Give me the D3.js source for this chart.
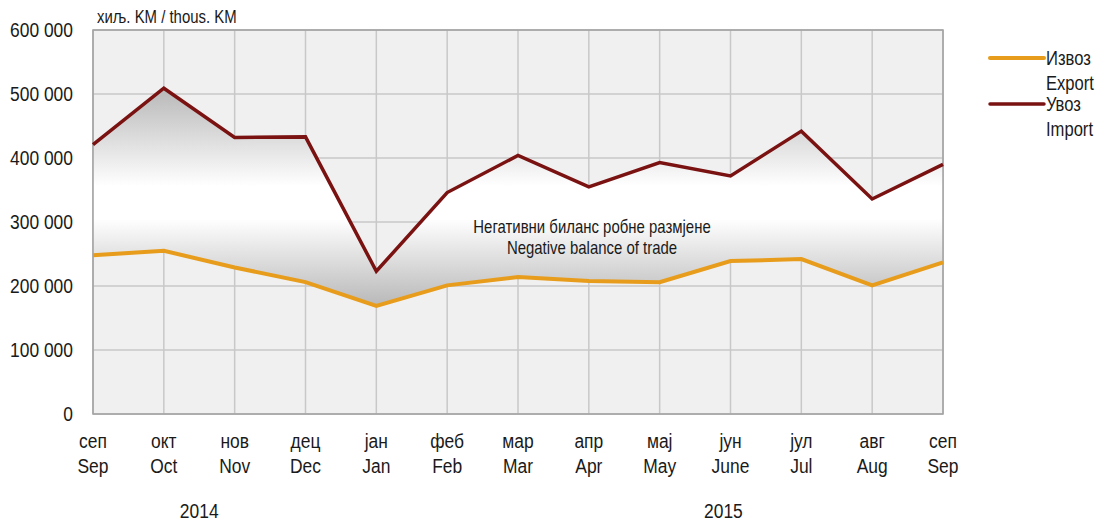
<!DOCTYPE html>
<html><head><meta charset="utf-8">
<script src="https://cdn.jsdelivr.net/npm/d3@7"></script>
<style>
body{margin:0;background:#fff;}
text{font-family:"Liberation Sans Narrow","Arial Narrow","Liberation Sans",sans-serif;fill:#1a1a1a;}
</style></head>
<body><svg id="c" width="1098" height="523"></svg>
<script>
const monthsCyr = ["сеп","окт","нов","дец","јан","феб","мар","апр","мај","јун","јул","авг","сеп"];
const monthsLat = ["Sep","Oct","Nov","Dec","Jan","Feb","Mar","Apr","May","June","Jul","Aug","Sep"];
const exportVals = [248000,255000,229000,206000,169000,201000,214000,208000,206000,239000,242000,201000,237000];
const importVals = [421000,509000,432000,433000,223000,346000,404000,355000,393000,372000,442000,336000,390000];
const yTicks = [0,100000,200000,300000,400000,500000,600000];
const years = [{label:"2014", at:1.5},{label:"2015", at:8.9}];

const svg = d3.select("#c");
const L=93, R=943, T=30, B=414;
const x = d3.scalePoint().domain(d3.range(monthsLat.length)).range([L,R]);
const xi = d3.scaleLinear().domain([0,monthsLat.length-1]).range([L,R]);
const y = d3.scaleLinear().domain([0,600000]).range([B,T]);
const K = 0.83;
function narrow(sel){
  sel.each(function(){
    const t=d3.select(this); const tx=+t.attr("x"), ty=+t.attr("y");
    t.attr("x",0).attr("y",0).attr("transform",`translate(${tx},${ty}) scale(${K},1)`);
  });
}

svg.append("rect").attr("x",L).attr("y",T).attr("width",R-L).attr("height",B-T).attr("fill","#f0f0f0");

// grid
svg.append("g").selectAll("line").data(yTicks).join("line")
  .attr("x1",L).attr("x2",R).attr("y1",d=>y(d)).attr("y2",d=>y(d))
  .attr("stroke","#c8c8c8").attr("stroke-width",1.5);
svg.append("g").selectAll("line").data(d3.range(monthsLat.length)).join("line")
  .attr("x1",d=>x(d)).attr("x2",d=>x(d)).attr("y1",T).attr("y2",B)
  .attr("stroke","#c8c8c8").attr("stroke-width",1.5);

// gradient area
const defs = svg.append("defs");
const g = defs.append("linearGradient").attr("id","gr").attr("gradientUnits","userSpaceOnUse")
  .attr("x1",0).attr("x2",0).attr("y1",y(d3.max(importVals))).attr("y2",y(d3.min(exportVals)));
[[0,"#b8b8b8"],[0.45,"#ffffff"],[0.6,"#ffffff"],[1,"#b8b8b8"]].forEach(s=>g.append("stop").attr("offset",s[0]).attr("stop-color",s[1]));
const area = d3.area().x((d,i)=>x(i)).y0((d,i)=>y(exportVals[i])).y1(d=>y(d));
svg.append("path").datum(importVals).attr("d",area).attr("fill","url(#gr)");

// border
svg.append("rect").attr("x",L).attr("y",T).attr("width",R-L).attr("height",B-T)
  .attr("fill","none").attr("stroke","#a0a0a0").attr("stroke-width",1.5);

const line = d3.line().x((d,i)=>x(i)).y(d=>y(d));
svg.append("path").datum(exportVals).attr("d",line).attr("fill","none").attr("stroke","#e89c1c").attr("stroke-width",4).attr("stroke-linejoin","miter");
svg.append("path").datum(importVals).attr("d",line).attr("fill","none").attr("stroke","#7a1212").attr("stroke-width",3.5).attr("stroke-linejoin","miter");

// y axis labels
const fmt = v => v===0 ? "0" : d3.format(",")(v).replace(/,/g," ");
svg.append("g").selectAll("text").data(yTicks).join("text")
  .attr("x",73).attr("y",d=>y(d)+7).attr("text-anchor","end")
  .attr("font-size",21).text(fmt).call(narrow);
svg.append("text").attr("x",97).attr("y",23).attr("font-size",18).text("хиљ. KM / thous. KM").call(narrow);

// x labels
const xl = svg.append("g");
xl.selectAll("text.c").data(monthsCyr).join("text").attr("class","c")
  .attr("x",(d,i)=>x(i)).attr("y",448).attr("text-anchor","middle").attr("font-size",21).text(d=>d).call(narrow);
xl.selectAll("text.l").data(monthsLat).join("text").attr("class","l")
  .attr("x",(d,i)=>x(i)).attr("y",473).attr("text-anchor","middle").attr("font-size",21).text(d=>d).call(narrow);
xl.selectAll("text.yr").data(years).join("text").attr("class","yr")
  .attr("x",d=>xi(d.at)).attr("y",518).attr("text-anchor","middle").attr("font-size",21).text(d=>d.label).call(narrow);

// annotation
svg.append("text").attr("x",592).attr("y",233).attr("text-anchor","middle").attr("font-size",18).text("Негативни биланс робне размјене").call(narrow);
svg.append("text").attr("x",592).attr("y",254).attr("text-anchor","middle").attr("font-size",18).attr("fill","#333").text("Negative balance of trade").call(narrow);

// legend
const leg = [{cyr:"Извоз",lat:"Export",c:"#e89c1c",w:4},{cyr:"Увоз",lat:"Import",c:"#7a1212",w:3.5}];
const lg = svg.append("g").selectAll("g").data(leg).join("g").attr("transform",(d,i)=>`translate(0,${58+i*46})`);
lg.append("line").attr("x1",990).attr("x2",1044).attr("y1",0).attr("y2",0).attr("stroke",d=>d.c).attr("stroke-width",d=>d.w).attr("stroke-linecap","round");
lg.append("text").attr("x",1046).attr("y",7).attr("font-size",20).text(d=>d.cyr).call(narrow);
lg.append("text").attr("x",1046).attr("y",32).attr("font-size",20).attr("fill","#333").text(d=>d.lat).call(narrow);
</script></body></html>
